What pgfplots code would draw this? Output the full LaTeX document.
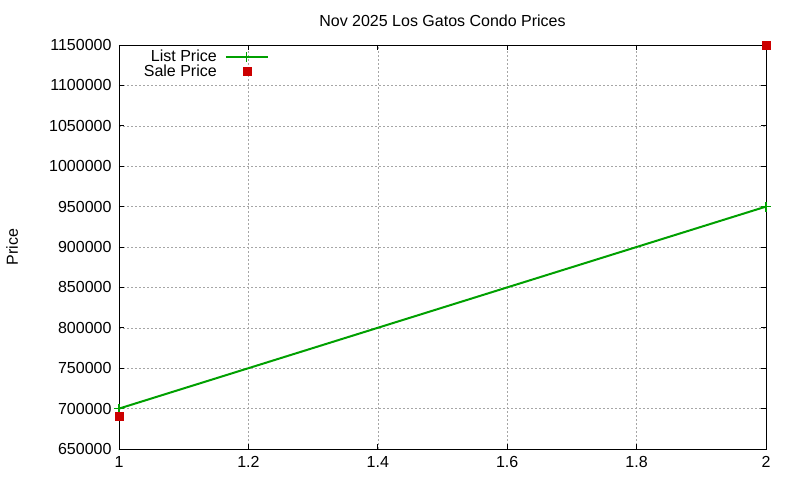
\documentclass[border=0pt]{standalone}
\usepackage{fontspec}
\setmainfont{Liberation Sans}
\usepackage{pgfplots}
\pgfplotsset{compat=1.18}

\definecolor{listgreen}{RGB}{0,160,0}
\definecolor{salered}{RGB}{204,0,0}

\newcommand{\gfont}{\fontsize{16}{18}\selectfont}

\begin{document}
\begin{tikzpicture}[x=1pt,y=1pt]
\path[use as bounding box] (0,0) rectangle (800,480);
\begin{axis}[
    at={(119pt,31pt)}, anchor=south west,
    scale only axis,
    width=647pt, height=404pt,
    xmin=1, xmax=2,
    ymin=650000, ymax=1150000,
    xtick={1,1.2,1.4,1.6,1.8,2},
    ytick={650000,700000,750000,800000,850000,900000,950000,1000000,1050000,1100000,1150000},
    scaled y ticks=false,
    scaled x ticks=false,
    /pgf/number format/fixed,
    /pgf/number format/1000 sep={},
    /pgf/number format/assume math mode=true,
    tick align=inside,
    major tick length=5pt,
    tick style={black, line width=0.9pt},
    axis line style={line width=0.9pt},
    grid=major,
    grid style={gray!70, dash pattern=on 2pt off 2pt, line width=0.6pt},
    ticklabel style={font=\gfont},
    xticklabel style={yshift=-4pt},
    yticklabel style={xshift=-4pt},
    title={Nov 2025 Los Gatos Condo Prices},
    title style={font=\gfont, yshift=9pt},
    ylabel={Price},
    ylabel style={font=\gfont, at={(axis description cs:-0.165,0.5)}, anchor=center},
    legend style={draw=none, fill=none, font=\gfont,
        at={(rel axis cs:0.035,0.993)}, anchor=north west,
        row sep=-2pt, inner sep=0pt},
    legend cell align=right,
    legend plot pos=right,
]
\addplot[listgreen, line width=2pt, mark=+, mark size=5pt,
    mark options={line width=1.3pt},
    legend image code/.code={
        \path (0pt,0pt);
        \draw[listgreen, line width=2pt] (6pt,0pt) -- (48pt,0pt);
        \draw[listgreen, line width=1.3pt] (27pt,-5pt) -- (27pt,5pt);
    }]
    coordinates {(1,700000) (2,950000)};
\addlegendentry{List Price}
\addplot[only marks, mark=square*, mark size=4pt, salered,
    mark options={fill=salered, draw=salered},
    legend image code/.code={
        \path (0pt,0pt);
        \fill[salered] (23pt,-4pt) rectangle (31pt,4pt);
    }]
    coordinates {(1,690000) (2,1150000)};
\addlegendentry{Sale Price}
\end{axis}
\end{tikzpicture}
\end{document}
